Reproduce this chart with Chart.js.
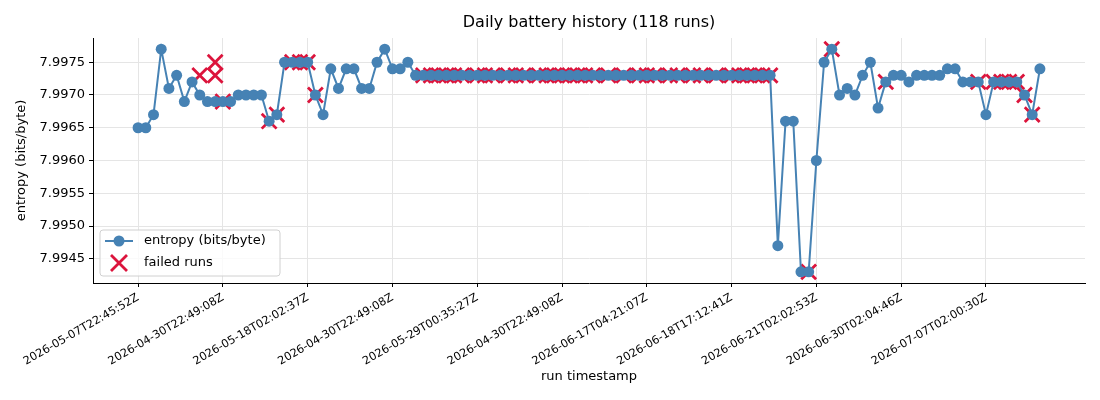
<!DOCTYPE html>
<html>
<head>
<meta charset="utf-8">
<script src="https://cdn.jsdelivr.net/npm/chart.js@4.4.1/dist/chart.umd.min.js"></script>
<style>
  html, body { margin: 0; padding: 0; background: #fff; }
  #wrap { width: 1100px; height: 400px; }
</style>
</head>
<body>
<div id="wrap"><canvas id="batteryChart" width="1100" height="400"></canvas></div>
<script>
// entropy per run, in run order
var entropy = [
  7.9965, 7.9965, 7.9967, 7.9977, 7.9971, 7.9973, 7.9969, 7.9972, 7.9970, 7.9969,
  7.9969, 7.9969, 7.9969, 7.9970, 7.9970, 7.9970, 7.9970, 7.9966, 7.9967, 7.9975,
  7.9975, 7.9975, 7.9975, 7.9970, 7.9967, 7.9974, 7.9971, 7.9974, 7.9974, 7.9971,
  7.9971, 7.9975, 7.9977, 7.9974, 7.9974, 7.9975, 7.9973, 7.9973, 7.9973, 7.9973,
  7.9973, 7.9973, 7.9973, 7.9973, 7.9973, 7.9973, 7.9973, 7.9973, 7.9973, 7.9973,
  7.9973, 7.9973, 7.9973, 7.9973, 7.9973, 7.9973, 7.9973, 7.9973, 7.9973, 7.9973,
  7.9973, 7.9973, 7.9973, 7.9973, 7.9973, 7.9973, 7.9973, 7.9973, 7.9973, 7.9973,
  7.9973, 7.9973, 7.9973, 7.9973, 7.9973, 7.9973, 7.9973, 7.9973, 7.9973, 7.9973,
  7.9973, 7.9973, 7.9973, 7.9947, 7.9966, 7.9966, 7.9943, 7.9943, 7.9960, 7.9975,
  7.9977, 7.9970, 7.9971, 7.9970, 7.9973, 7.9975, 7.9968, 7.9972, 7.9973, 7.9973,
  7.9972, 7.9973, 7.9973, 7.9973, 7.9973, 7.9974, 7.9974, 7.9972, 7.9972, 7.9972,
  7.9967, 7.9972, 7.9972, 7.9972, 7.9972, 7.9970, 7.9967, 7.9974
];

// failed runs: run index + value
var failIdx = [8, 10, 10, 11, 17, 18, 20, 21, 22, 23,
  37, 38, 39, 40, 41, 42, 44, 45, 46, 48, 49, 50, 52, 53, 54, 55, 56, 57, 58, 59,
  61, 63, 65, 66, 67, 69, 70, 72, 73, 75, 77, 78, 79, 80, 81, 82,
  87, 90, 97, 109, 111, 112, 113, 114, 115, 116];
var failVal = [7.9973, 7.9975, 7.9973, 7.9969, 7.9966, 7.9967, 7.9975, 7.9975, 7.9975, 7.9970,
  7.9973, 7.9973, 7.9973, 7.9973, 7.9973, 7.9973, 7.9973, 7.9973, 7.9973, 7.9973, 7.9973, 7.9973, 7.9973, 7.9973, 7.9973, 7.9973, 7.9973, 7.9973, 7.9973, 7.9973,
  7.9973, 7.9973, 7.9973, 7.9973, 7.9973, 7.9973, 7.9973, 7.9973, 7.9973, 7.9973, 7.9973, 7.9973, 7.9973, 7.9973, 7.9973, 7.9973,
  7.9943, 7.9977, 7.9972, 7.9972, 7.9972, 7.9972, 7.9972, 7.9972, 7.9970, 7.9967];

var tickIdx = [0, 11, 22, 33, 44, 55, 66, 77, 88, 99, 110];
var tickLabels = [
  '2026-05-07T22:45:52Z', '2026-04-30T22:49:08Z', '2026-05-18T02:02:37Z',
  '2026-04-30T22:49:08Z', '2026-05-29T00:35:27Z', '2026-04-30T22:49:08Z',
  '2026-06-17T04:21:07Z', '2026-06-18T17:12:41Z', '2026-06-21T02:02:53Z',
  '2026-06-30T02:04:46Z', '2026-07-07T02:00:30Z'
];
var yTicks = [7.9945, 7.9950, 7.9955, 7.9960, 7.9965, 7.9970, 7.9975];

var FONT = '"DejaVu Sans", "Liberation Sans", sans-serif';
var BLUE = '#4682b4';
var RED = '#dc143c';

var linePts = [];
for (var i = 0; i < entropy.length; i++) {
  linePts.push({x: i, y: entropy[i]});
}
var failPts = [];
for (var j = 0; j < failIdx.length; j++) {
  failPts.push({x: failIdx[j], y: failVal[j]});
}

var n = entropy.length;
var xPad = (n - 1) * 0.05;
var yMin = Math.min.apply(null, entropy.concat(failVal));
var yMax = Math.max.apply(null, entropy.concat(failVal));
var yPad = (yMax - yMin) * 0.05;

// title, axis titles and the legend box, matplotlib style
var decor = {
  id: 'decor',
  afterDraw: function (chart) {
    var ctx = chart.ctx;
    var a = chart.chartArea;
    var cx = (a.left + a.right) / 2;
    ctx.save();
    ctx.fillStyle = '#000';
    ctx.textAlign = 'center';
    ctx.textBaseline = 'middle';
    ctx.font = '16px ' + FONT;
    ctx.fillText('Daily battery history (118 runs)', cx, 23);
    ctx.font = '13px ' + FONT;
    ctx.fillText('run timestamp', cx, 377);
    ctx.save();
    ctx.translate(22, (a.top + a.bottom) / 2);
    ctx.rotate(-Math.PI / 2);
    ctx.fillText('entropy (bits/byte)', 0, 0);
    ctx.restore();

    // legend
    var lx = 100, ly = 230, lw = 180, lh = 46, r = 3;
    ctx.beginPath();
    ctx.moveTo(lx + r, ly);
    ctx.arcTo(lx + lw, ly, lx + lw, ly + lh, r);
    ctx.arcTo(lx + lw, ly + lh, lx, ly + lh, r);
    ctx.arcTo(lx, ly + lh, lx, ly, r);
    ctx.arcTo(lx, ly, lx + lw, ly, r);
    ctx.closePath();
    ctx.fillStyle = 'rgba(255,255,255,0.8)';
    ctx.fill();
    ctx.strokeStyle = '#d0d0d0';
    ctx.lineWidth = 1;
    ctx.stroke();

    ctx.strokeStyle = BLUE;
    ctx.lineWidth = 2;
    ctx.beginPath();
    ctx.moveTo(105, 241);
    ctx.lineTo(133, 241);
    ctx.stroke();
    ctx.fillStyle = BLUE;
    ctx.beginPath();
    ctx.arc(119, 241, 5.5, 0, Math.PI * 2);
    ctx.fill();

    ctx.strokeStyle = RED;
    ctx.lineWidth = 2.8;
    ctx.beginPath();
    ctx.moveTo(111, 255); ctx.lineTo(127, 271);
    ctx.moveTo(127, 255); ctx.lineTo(111, 271);
    ctx.stroke();

    ctx.fillStyle = '#000';
    ctx.textAlign = 'left';
    ctx.font = '13px ' + FONT;
    ctx.fillText('entropy (bits/byte)', 144, 241);
    ctx.fillText('failed runs', 144, 263);
    ctx.restore();
  }
};

var context = document.getElementById('batteryChart').getContext('2d');
var myChart = new Chart(context, {
  data: {
    datasets: [
      {
        type: 'line',
        label: 'entropy (bits/byte)',
        data: linePts,
        borderColor: BLUE,
        backgroundColor: BLUE,
        borderWidth: 2,
        pointRadius: 5.5,
        pointBorderWidth: 0,
        pointBackgroundColor: BLUE,
        tension: 0,
        order: 0
      },
      {
        type: 'scatter',
        label: 'failed runs',
        data: failPts,
        pointStyle: 'crossRot',
        pointRadius: 10.5,
        borderColor: RED,
        borderWidth: 2.8,
        order: 1
      }
    ]
  },
  options: {
    responsive: false,
    animation: false,
    events: [],
    layout: { padding: { left: 0, right: 15, top: 38, bottom: 0 } },
    plugins: {
      legend: { display: false },
      title: { display: false },
      tooltip: { enabled: false }
    },
    scales: {
      x: {
        type: 'linear',
        min: -xPad,
        max: n - 1 + xPad,
        afterBuildTicks: function (scale) {
          scale.ticks = tickIdx.map(function (v) { return {value: v}; });
        },
        afterFit: function (scale) { scale.height = 117; },
        ticks: {
          autoSkip: false,
          minRotation: 30,
          maxRotation: 30,
          padding: 4,
          color: '#000',
          font: { family: FONT, size: 11.3 },
          callback: function (v) {
            var k = tickIdx.indexOf(v);
            return k >= 0 ? tickLabels[k] : '';
          }
        },
        grid: { color: '#e5e5e5', tickColor: '#000', tickLength: 4 },
        border: { display: true, color: '#000', width: 1 }
      },
      y: {
        min: yMin - yPad,
        max: yMax + yPad,
        afterBuildTicks: function (scale) {
          scale.ticks = yTicks.map(function (v) { return {value: v}; });
        },
        afterFit: function (scale) { scale.width = 93; },
        ticks: {
          padding: 4,
          color: '#000',
          font: { family: FONT, size: 13 },
          callback: function (v) { return Number(v).toFixed(4); }
        },
        grid: { color: '#e5e5e5', tickColor: '#000', tickLength: 4 },
        border: { display: true, color: '#000', width: 1 }
      }
    }
  },
  plugins: [decor]
});
</script>
</body>
</html>
